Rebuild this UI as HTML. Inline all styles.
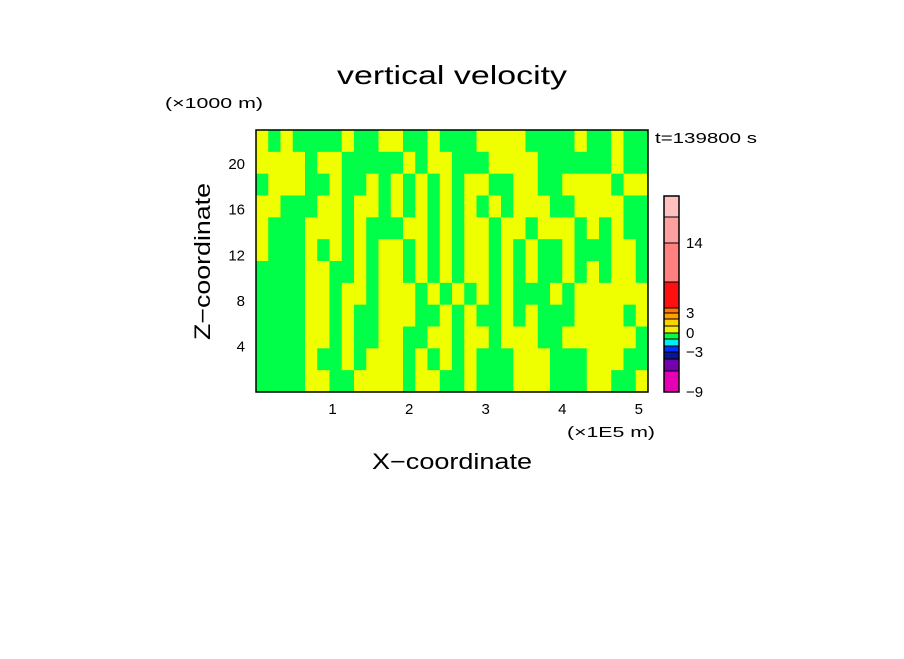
<!DOCTYPE html>
<html><head><meta charset="utf-8"><style>
body{margin:0;background:#fff;}
svg text{font-family:"Liberation Sans",sans-serif;fill:#000;}
</style></head><body>
<svg id="chart" width="904" height="654" viewBox="0 0 904 654" xmlns="http://www.w3.org/2000/svg">
<rect width="904" height="654" fill="#fff"/>
<text x="337" y="84" font-size="26" textLength="230" lengthAdjust="spacingAndGlyphs">vertical velocity</text>
<text x="165" y="108" font-size="15" textLength="98" lengthAdjust="spacingAndGlyphs">(×1000 m)</text>
<text x="655" y="143" font-size="15" textLength="102" lengthAdjust="spacingAndGlyphs">t=139800 s</text>
<text x="567" y="437" font-size="15" textLength="88" lengthAdjust="spacingAndGlyphs">(×1E5 m)</text>
<text x="372" y="469" font-size="22" textLength="160" lengthAdjust="spacingAndGlyphs">X−coordinate</text>
<text transform="translate(210,340) rotate(-90)" font-size="22" textLength="157" lengthAdjust="spacingAndGlyphs">Z−coordinate</text>
<g id="field"></g>
<rect x="256" y="130" width="392" height="262" fill="none" stroke="#000" stroke-width="1.5"/>
<g id="axes"></g>
<g id="cbar"></g>
</svg>
<script>
const xTicks=[1,2,3,4,5];
const zTicks=[4,8,12,16,20];
const xMax=5.12, zMax=23;
// grid rows top->bottom, 1 = yellow (w>0), 0 = green (w<0)
const fieldRows=[
"10100001001100100011110000100100",
"11110110000010110001111000000100",
"01110010010101010110011001111011",
"11000110110101010101011100111100",
"10001110100011010110110111010100",
"10001010101101010110101001000110",
"00001100101101010110101001010110",
"00001101101110101010100010111111",
"00001101001110010100101000111101",
"00001101001100110110111001111110",
"00001001011101010100011100011100",
"00001100111101100100011100011001"
];
const cbarLevels=[-9,-6,-4,-3,-2,-1,0,1,2,3,4,10,14,18,22];
const cbarColors=["#e600b4","#7400b0","#0a1496","#0032ff","#00f0f0","#00ff40","#f0f000","#ffd200","#ffa000","#ff7800","#ff1010","#ff8080","#ffa0a0","#ffc0c0"];
const cbarLabels=[-9,-3,0,3,14];

const NS="http://www.w3.org/2000/svg";
const X0=256,X1=648,Y0=392,Y1=130;
const sx=v=>X0+(X1-X0)*v/xMax;
const sz=v=>Y0-(Y0-Y1)*v/zMax;
const field=document.getElementById('field');
const nr=fieldRows.length,nc=fieldRows[0].length;
for(let r=0;r<nr;r++)for(let c=0;c<nc;c++){
 const el=document.createElementNS(NS,'rect');
 const xa=sx(c*xMax/nc),xb=sx((c+1)*xMax/nc);
 const ya=sz(zMax-r*zMax/nr),yb=sz(zMax-(r+1)*zMax/nr);
 el.setAttribute('x',xa);el.setAttribute('y',ya);
 el.setAttribute('width',xb-xa+0.5);el.setAttribute('height',yb-ya+0.5);
 el.setAttribute('fill',fieldRows[r][c]==='1'?'#f0ff00':'#00ff48');
 
 
 field.appendChild(el);
}
const axes=document.getElementById('axes');
xTicks.forEach(t=>{
 const tx=document.createElementNS(NS,'text');
 tx.setAttribute('x',sx(t));tx.setAttribute('y',414);tx.setAttribute('font-size','15');tx.setAttribute('text-anchor','middle');
 tx.textContent=t;
 
 
 axes.appendChild(tx);
});
zTicks.forEach(t=>{
 const tx=document.createElementNS(NS,'text');
 tx.setAttribute('x',245);tx.setAttribute('y',sz(t)+5);tx.setAttribute('font-size','15');tx.setAttribute('text-anchor','end');
 tx.textContent=t;
 
 
 axes.appendChild(tx);
});
const cb=document.getElementById('cbar');
const cbY=[392,371,359,352,346,339,333,326,319,313,308,282,243,217,196];
const cbYof=v=>{const i=cbarLevels.indexOf(v);return cbY[i];};
for(let i=0;i<cbarColors.length;i++){
 const el=document.createElementNS(NS,'rect');
 const ya=cbYof(cbarLevels[i+1]),yb=cbYof(cbarLevels[i]);
 el.setAttribute('x',664);el.setAttribute('y',ya);el.setAttribute('width',15);el.setAttribute('height',yb-ya);
 el.setAttribute('fill',cbarColors[i]);el.setAttribute('stroke','#000');el.setAttribute('stroke-width','1');
 
 
 cb.appendChild(el);
}
const fr=document.createElementNS(NS,'rect');
fr.setAttribute('x',664);fr.setAttribute('y',196);fr.setAttribute('width',15);fr.setAttribute('height',196);
fr.setAttribute('fill','none');fr.setAttribute('stroke','#000');fr.setAttribute('stroke-width','1.5');


cb.appendChild(fr);
cbarLabels.forEach(v=>{
 const tx=document.createElementNS(NS,'text');
 tx.setAttribute('x',686);tx.setAttribute('y',cbYof(v)+5);tx.setAttribute('font-size','15');
 tx.textContent=v<0?'−'+(-v):v;
 
 
 cb.appendChild(tx);
});
</script>
</body></html>
